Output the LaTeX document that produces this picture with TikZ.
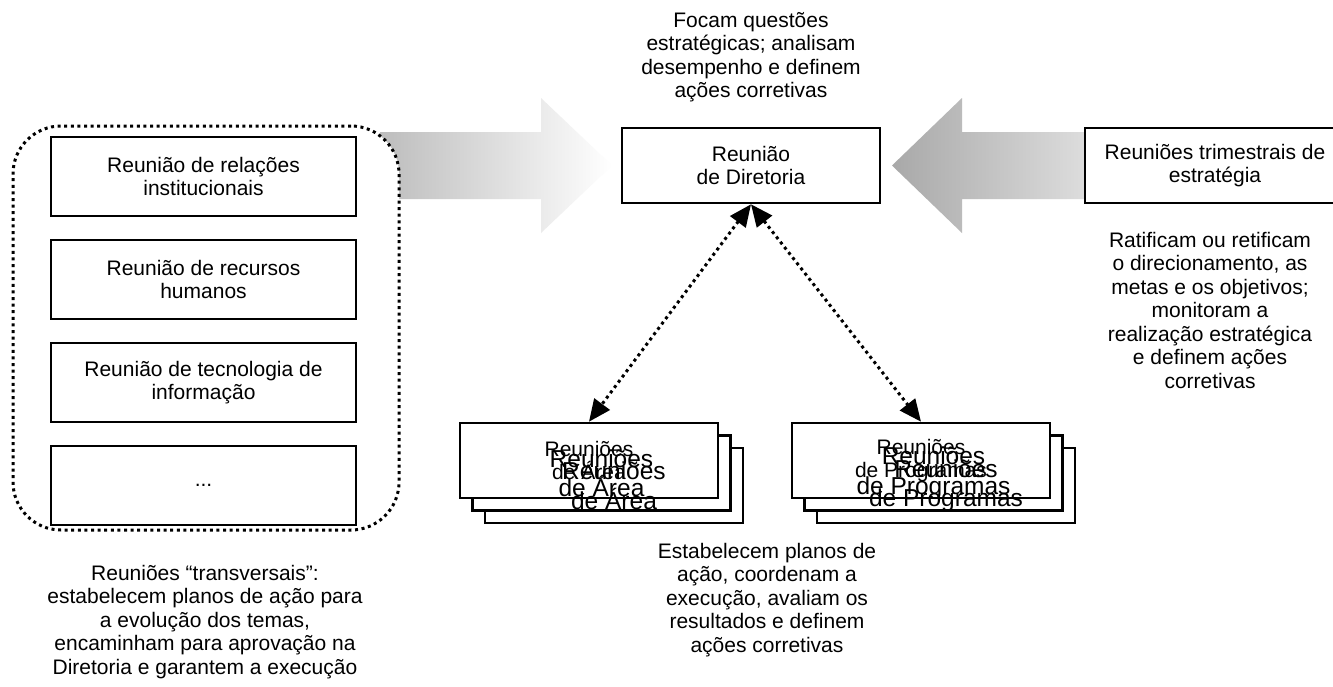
\documentclass[tikz,border=0pt]{standalone}
\usepackage{fontspec}
\setmainfont{Liberation Sans}
\usetikzlibrary{arrows.meta}
\begin{document}
\begin{tikzpicture}[x=1pt,y=-1pt,
  every node/.style={font=\fontsize{21}{23.5}\selectfont, align=center, inner sep=0pt},
  box/.style={draw, line width=2.6pt, fill=white, minimum width=258pt, minimum height=75pt},
  leftbox/.style={draw, line width=2.6pt, fill=white, minimum width=305pt, minimum height=79pt},
  bigtext/.style={font=\fontsize{24.5}{29.5}\selectfont},
  dotline/.style={line width=3pt, dash pattern=on 3pt off 3.6pt},
  link/.style={dotline, {Triangle[length=22pt,width=19pt]}-{Triangle[length=22pt,width=19pt]}},
]
\clip (0,0) rectangle (1333,686);
\fill[white] (0,0) rectangle (1333,686);

% block arrows feeding the board meeting
\shade[left color=black!26, right color=white]
  (380,132) -- (541,132) -- (541,98) -- (612,165.5) -- (541,233) -- (541,199) -- (380,199) -- cycle;
\shade[left color=black!34, right color=black!13]
  (892,165.5) -- (962,98) -- (962,132) -- (1090,132) -- (1090,199) -- (962,199) -- (962,233) -- cycle;

% transversal meetings group
\node[dotline, draw, fill=white, rounded corners=48pt, minimum width=386pt, minimum height=404pt] (grp) at (206,328) {};
\node[leftbox] (rel) at (203.5,176.5) {Reunião de relações\\institucionais};
\node[leftbox] (rh)  at (203.5,279.5) {Reunião de recursos\\humanos};
\node[leftbox] (ti)  at (203.5,382.5) {Reunião de tecnologia de\\informação};
\node[leftbox] (etc) at (203.5,485.5) {...};

% board and quarterly strategy meetings
\node[box] (dir) at (751,165.5) {Reunião\\de Diretoria};
\node[box, minimum width=260pt] (tri) at (1215,165.5) {Reuniões trimestrais de\\estratégia};

% stacked area meetings
\node[box] (area3) at (614,485.5) {};
\node[box] (area2) at (601.5,473) {};
\node[box] (area1) at (589,460.5) {};
\node[bigtext] (area3t) at (area3) {Reuniões\\de Área};
\node[bigtext] (area2t) at (area2) {Reuniões\\de Área};
\node (area1t) at (area1) {Reuniões\\de Área};

% stacked program meetings
\node[box] (prog3) at (946,485.5) {};
\node[box] (prog2) at (933.5,473) {};
\node[box] (prog1) at (921,460.5) {};
\node[bigtext] (prog3t) at (prog3) {Reuniões\\de Programas};
\node[bigtext] (prog2t) at (prog2) {Reuniões\\de Programas};
\node (prog1t) at (prog1) {Reuniões\\de Programas};

% links between board and operational meetings
\draw[link] (dir.south) -- (area1.north);
\draw[link] (dir.south) -- (prog1.north);

% descriptions
\node (dirdesc) at (751,57) {Focam questões\\estratégicas; analisam\\desempenho e definem\\ações corretivas};
\node (tridesc) at (1210,310) {Ratificam ou retificam\\o direcionamento, as\\metas e os objetivos;\\monitoram a\\realização estratégica\\e definem ações\\corretivas};
\node (grpdesc) at (205,622) {Reuniões “transversais”:\\estabelecem planos de ação para\\a evolução dos temas,\\encaminham para aprovação na\\Diretoria e garantem a execução};
\node (opdesc) at (767,600) {Estabelecem planos de\\ação, coordenam a\\execução, avaliam os\\resultados e definem\\ações corretivas};
\end{tikzpicture}
\end{document}
